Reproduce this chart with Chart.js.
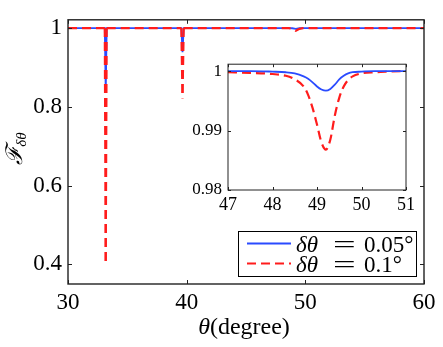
<!DOCTYPE html>
<html>
<head>
<meta charset="utf-8">
<script src="https://cdn.jsdelivr.net/npm/chart.js@4.4.0/dist/chart.umd.min.js"></script>
<style>
html, body { margin: 0; padding: 0; background: #fff; }
#wrap { position: relative; width: 443px; height: 347px; }
#main { position: absolute; left: 0; top: 0; }
#inset { position: absolute; left: 176px; top: 48px; }
</style>
</head>
<body>
<div id="wrap">
    <canvas id="main" width="443" height="347"></canvas>
    <canvas id="inset" width="244" height="172"></canvas>
</div>
<script>
// Main panel data (theta in degrees)
const mainTheta = [30, 33.1, 33.18, 33.26, 39.55, 39.65, 39.75, 48.6, 48.9, 49.2, 49.5, 49.8, 60];
const mainBlue  = [1, 1, 0.836, 1, 1, 0.939, 1, 1, 0.9995, 0.998, 0.9995, 1, 1];
const mainRed   = [1, 1, 0.40, 1, 1, 0.822, 1, 0.9998, 0.998, 0.993, 0.998, 0.9998, 1];

// Inset data (zoom around 49 deg)
const insetTheta = [47, 47.5, 48, 48.3, 48.5, 48.7, 48.8, 48.9, 49.0, 49.1, 49.2, 49.3, 49.4, 49.5, 49.6, 49.7, 49.8, 50, 50.3, 50.6, 51];
const insetBlue  = [1.0000, 1.0000, 0.9999, 0.9998, 0.9996, 0.9991, 0.9987, 0.9981, 0.9974, 0.9969, 0.9967, 0.9970, 0.9977, 0.9986, 0.9992, 0.9996, 0.9998, 0.9999, 1.0000, 1.0000, 1.0000];
const insetRed   = [0.9998, 0.9997, 0.9995, 0.9992, 0.9986, 0.9974, 0.9960, 0.9938, 0.9910, 0.9880, 0.9868, 0.9885, 0.9925, 0.9955, 0.9974, 0.9985, 0.9991, 0.9996, 0.9998, 0.9999, 1.0000];

// Tick values and labels
const mainXTicks = [30, 40, 50, 60];
const mainXLabels = ['30', '40', '50', '60'];
const mainYTicks = [0.4, 0.6, 0.8, 1];
const mainYLabels = ['0.4', '0.6', '0.8', '1'];
const insetXTicks = [47, 48, 49, 50, 51];
const insetXLabels = ['47', '48', '49', '50', '51'];
const insetYTicks = [0.98, 0.99, 1];
const insetYLabels = ['0.98', '0.99', '1'];

const seriesNames = ['\u03b4\u03b8 = 0.05\u00b0', '\u03b4\u03b8 = 0.1\u00b0'];
const BLUE = '#2a4bff';
const RED = '#ff1c1c';
const SERIF = "'Liberation Serif', 'DejaVu Serif', serif";
const DASH = [9, 5];

const toPoints = (xs, ys) => xs.map((x, i) => ({ x: x, y: ys[i] }));

// Keep the dashes of a narrow dip lined up on the way down and back up
function dipDashOffset(ctx) {
    const dy = ctx.p1.y - ctx.p0.y;
    if (Math.abs(dy) < 20) return undefined;
    if (dy > 0) return 0.01;
    const len = Math.hypot(ctx.p1.x - ctx.p0.x, dy);
    const period = DASH[0] + DASH[1];
    return (((DASH[0] - len) % period) + period) % period;
}

// Inward ticks on all four sides + frame box
const frameTicks = {
    id: 'frameTicks',
    beforeDraw(chart, args, opts) {
        if (!opts.fill) return;
        const { ctx, chartArea: a } = chart;
        ctx.save();
        ctx.fillStyle = '#fff';
        ctx.fillRect(a.left, a.top, a.width, a.height);
        ctx.restore();
    },
    afterDraw(chart, args, opts) {
        const { ctx, chartArea: a, scales: { x, y } } = chart;
        const len = opts.len;
        ctx.save();
        ctx.strokeStyle = opts.color;
        ctx.lineWidth = 1;
        ctx.beginPath();
        x.ticks.forEach(t => {
            const px = Math.round(x.getPixelForValue(t.value)) + 0.5;
            ctx.moveTo(px, a.bottom); ctx.lineTo(px, a.bottom - len);
            ctx.moveTo(px, a.top); ctx.lineTo(px, a.top + len);
        });
        y.ticks.forEach(t => {
            const py = Math.round(y.getPixelForValue(t.value)) + 0.5;
            ctx.moveTo(a.left, py); ctx.lineTo(a.left + len, py);
            ctx.moveTo(a.right, py); ctx.lineTo(a.right - len, py);
        });
        ctx.stroke();
        ctx.lineWidth = opts.border;
        ctx.strokeRect(a.left, a.top, a.width, a.height);
        ctx.restore();
    }
};

// draw text pieces left to right: [text, italic, x, horizontal stretch]
function drawPieces(ctx, pieces, x, y, size) {
    pieces.forEach(([txt, italic, at, stretch]) => {
        ctx.font = `${italic ? 'italic ' : ''}${size}px ${SERIF}`;
        if (at !== undefined) x = at;
        const k = stretch || 1;
        ctx.save();
        ctx.translate(x, y);
        ctx.scale(k, 1);
        ctx.fillText(txt, 0, 0);
        ctx.restore();
        x += ctx.measureText(txt).width * k;
    });
}

// Axis titles and boxed legend for main panel
const mainDecor = {
    id: 'mainDecor',
    afterDraw(chart) {
        const { ctx, chartArea: a } = chart;
        ctx.save();
        ctx.fillStyle = '#000';
        ctx.textBaseline = 'alphabetic';

        // x title: θ(degree)
        const big = 24;
        ctx.font = `italic ${big}px ${SERIF}`;
        const w1 = ctx.measureText('\u03b8').width;
        ctx.font = `${big}px ${SERIF}`;
        const w2 = ctx.measureText('(degree)').width;
        const sx = (a.left + a.right) / 2 - 2 - (w1 + w2) / 2;
        drawPieces(ctx, [['\u03b8', true], ['(degree)', false]], sx, 334, big);

        // y title: F_{δθ}
        ctx.save();
        ctx.translate(22, 148);
        ctx.rotate(-Math.PI / 2);
        ctx.font = `italic 23px ${SERIF}`;
        const fw = ctx.measureText('\u2131').width;
        ctx.font = `italic 15px ${SERIF}`;
        const sw = ctx.measureText('\u03b4\u03b8').width;
        const x0 = -(fw + sw) / 2;
        ctx.font = `italic 23px ${SERIF}`;
        ctx.fillText('\u2131', x0, 0);
        ctx.font = `italic 15px ${SERIF}`;
        ctx.fillText('\u03b4\u03b8', x0 + fw - 1, 4);
        ctx.restore();

        // legend box
        const bx = 238.5, by = 231.5, bw = 178, bh = 45;
        ctx.fillStyle = '#fff';
        ctx.fillRect(bx, by, bw, bh);
        ctx.strokeStyle = '#000';
        ctx.lineWidth = 1;
        ctx.strokeRect(bx, by, bw, bh);
        const rows = [243.5, 263.5];
        chart.data.datasets.slice().sort((p, q) => p.legendIndex - q.legendIndex).forEach((ds, i) => {
            const ry = rows[i];
            ctx.strokeStyle = ds.borderColor;
            ctx.lineWidth = ds.borderWidth;
            ctx.setLineDash(ds.borderDash || []);
            ctx.beginPath();
            ctx.moveTo(247, ry);
            ctx.lineTo(291, ry);
            ctx.stroke();
            ctx.setLineDash([]);
            ctx.fillStyle = '#000';
            const label = ds.label;
            drawPieces(ctx, [
                [label.slice(0, 2), true, 296],
                ['=', false, 333, 1.75],
                [label.slice(5), false, 364]
            ], 296, ry + 8, 23);
        });
        ctx.restore();
    }
};

function fixedTicks(values) {
    return scale => { scale.ticks = values.map(v => ({ value: v })); };
}

new Chart(document.getElementById('main'), {
    type: 'line',
    data: {
        datasets: [
            {
                label: seriesNames[1],
                legendIndex: 1,
                data: toPoints(mainTheta, mainRed),
                borderColor: RED,
                borderWidth: 2.2,
                borderDash: DASH,
                segment: { borderDashOffset: dipDashOffset },
                order: 1
            },
            {
                label: seriesNames[0],
                legendIndex: 0,
                data: toPoints(mainTheta, mainBlue),
                borderColor: BLUE,
                borderWidth: 1.8,
                order: 2
            }
        ]
    },
    options: {
        responsive: false,
        animation: false,
        devicePixelRatio: 1,
        layout: { padding: { left: 0, top: 17, right: 19, bottom: 0 } },
        elements: { point: { radius: 0 }, line: { tension: 0 } },
        scales: {
            x: {
                type: 'linear',
                min: 30,
                max: 60,
                grid: { display: false, drawTicks: false },
                border: { display: false },
                afterBuildTicks: fixedTicks(mainXTicks),
                afterFit: s => { s.height = 63; },
                ticks: {
                    color: '#000',
                    padding: 5,
                    maxRotation: 0,
                    font: { family: SERIF, size: 23 },
                    callback: v => mainXLabels[mainXTicks.indexOf(v)]
                }
            },
            y: {
                type: 'linear',
                min: 0.35,
                max: 1.021,
                grid: { display: false, drawTicks: false },
                border: { display: false },
                afterBuildTicks: fixedTicks(mainYTicks),
                afterFit: s => { s.width = 68; },
                ticks: {
                    color: '#000',
                    padding: 6,
                    font: { family: SERIF, size: 23 },
                    callback: v => mainYLabels[mainYTicks.indexOf(v)]
                }
            }
        },
        plugins: {
            legend: { display: false },
            tooltip: { enabled: false },
            frameTicks: { len: 4, color: '#222', border: 1.4, fill: false }
        }
    },
    plugins: [frameTicks, mainDecor]
});

new Chart(document.getElementById('inset'), {
    type: 'line',
    data: {
        datasets: [
            {
                label: seriesNames[0],
                data: toPoints(insetTheta, insetBlue),
                borderColor: BLUE,
                borderWidth: 1.8,
                cubicInterpolationMode: 'monotone',
                order: 1
            },
            {
                label: seriesNames[1],
                data: toPoints(insetTheta, insetRed),
                borderColor: RED,
                borderWidth: 2.2,
                borderDash: DASH,
                cubicInterpolationMode: 'monotone',
                order: 2
            }
        ]
    },
    options: {
        responsive: false,
        animation: false,
        devicePixelRatio: 1,
        layout: { padding: { left: 0, top: 8, right: 14, bottom: 0 } },
        elements: { point: { radius: 0 } },
        scales: {
            x: {
                type: 'linear',
                min: 47,
                max: 51,
                grid: { display: false, drawTicks: false },
                border: { display: false },
                afterBuildTicks: fixedTicks(insetXTicks),
                afterFit: s => { s.height = 30; },
                ticks: {
                    color: '#000',
                    padding: 4,
                    maxRotation: 0,
                    font: { family: SERIF, size: 18 },
                    callback: v => insetXLabels[insetXTicks.indexOf(v)]
                }
            },
            y: {
                type: 'linear',
                min: 0.98,
                max: 1.00115,
                grid: { display: false, drawTicks: false },
                border: { display: false },
                afterBuildTicks: fixedTicks(insetYTicks),
                afterFit: s => { s.width = 52; },
                ticks: {
                    color: '#000',
                    padding: 6,
                    font: { family: SERIF, size: 17 },
                    callback: v => insetYLabels[insetYTicks.indexOf(v)]
                }
            }
        },
        plugins: {
            legend: { display: false },
            tooltip: { enabled: false },
            frameTicks: { len: 3, color: '#222', border: 1, fill: true }
        }
    },
    plugins: [frameTicks]
});
</script>
</body>
</html>
